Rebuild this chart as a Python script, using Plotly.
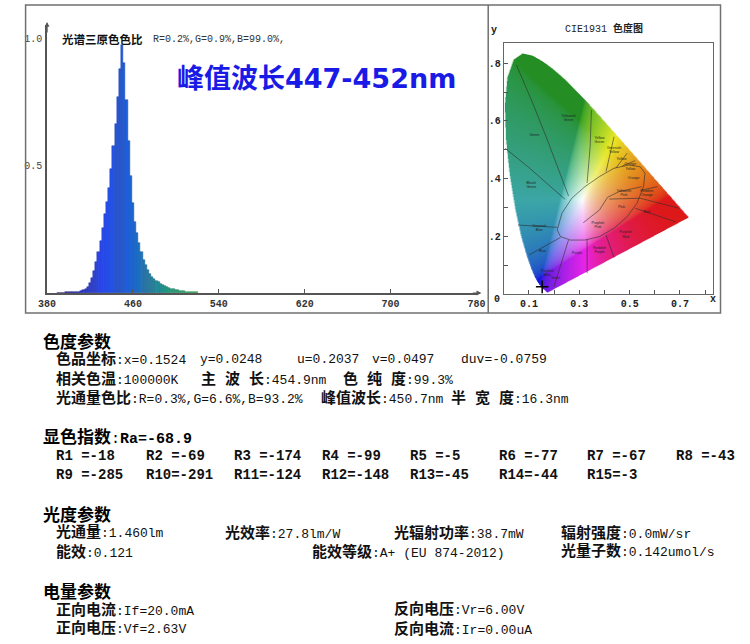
import base64
import struct
import zlib

import numpy as np
import plotly.graph_objects as go

W, H = 750, 644

# ---- spectrum, relative intensity read every 2 nm ----
wavelengths = list(range(390, 522, 2))
intensity = [0.001, 0.001, 0.001, 0.001, 0.002,
             0.002, 0.002, 0.003, 0.003, 0.004,
             0.005, 0.007, 0.010, 0.015, 0.024,
             0.038, 0.060, 0.088, 0.122, 0.162,
             0.205, 0.255, 0.310, 0.360, 0.415,
             0.490, 0.580, 0.665, 0.770, 0.880,
             0.975, 0.905, 0.760, 0.600, 0.460,
             0.355, 0.280, 0.235, 0.195, 0.160,
             0.130, 0.110, 0.090, 0.076, 0.064,
             0.055, 0.048, 0.042, 0.036, 0.031,
             0.027, 0.024, 0.020, 0.017, 0.014,
             0.012, 0.010, 0.008, 0.007, 0.006,
             0.005, 0.004, 0.003, 0.003, 0.002,
             0.002]
spec_xticks = [380, 460, 540, 620, 700, 780]
spec_yticks = [0.5, 1.0]
spec_title = "光谱三原色色比"
spec_ratio = "R=0.2%,G=0.9%,B=99.0%,"
big_label = "峰值波长447-452nm"

# ---- CIE 1931 spectral locus ----
locus_x = [0.1741, 0.1733, 0.1714, 0.1689, 0.1644, 0.1566, 0.1440, 0.1355, 0.1241,
           0.1096, 0.0913, 0.0687, 0.0454, 0.0235, 0.0082, 0.0039, 0.0139, 0.0389,
           0.0743, 0.1142, 0.1547, 0.1929, 0.2296, 0.2658, 0.3016, 0.3373, 0.3731,
           0.4087, 0.4441, 0.4788, 0.5125, 0.5448, 0.5752, 0.6029, 0.6270, 0.6482,
           0.6658, 0.6915, 0.7079, 0.7190, 0.7260, 0.7300, 0.7334, 0.7347]
locus_y = [0.0050, 0.0048, 0.0051, 0.0069, 0.0109, 0.0177, 0.0297, 0.0399, 0.0578,
           0.0868, 0.1327, 0.2007, 0.2950, 0.4127, 0.5384, 0.6548, 0.7502, 0.8120,
           0.8338, 0.8262, 0.8059, 0.7816, 0.7543, 0.7243, 0.6923, 0.6589, 0.6245,
           0.5896, 0.5547, 0.5202, 0.4866, 0.4544, 0.4242, 0.3965, 0.3725, 0.3514,
           0.3340, 0.3083, 0.2920, 0.2809, 0.2740, 0.2700, 0.2666, 0.2653]
chroma_point = (0.1524, 0.0248)

# colour-name regions drawn on the chart (Kelly style)
region_ellipse = [(0.212, 0.222), (0.231, 0.280), (0.270, 0.332), (0.322, 0.372),
                  (0.380, 0.407), (0.438, 0.436), (0.497, 0.447), (0.542, 0.441),
                  (0.561, 0.418), (0.555, 0.372), (0.529, 0.314), (0.490, 0.268),
                  (0.438, 0.228), (0.380, 0.199), (0.322, 0.187), (0.264, 0.187),
                  (0.225, 0.199), (0.212, 0.222)]
region_lines = [
    [(0.050, 0.794), (0.115, 0.661), (0.173, 0.534), (0.219, 0.430), (0.257, 0.340)],
    [(0.005, 0.505), (0.096, 0.441), (0.186, 0.372), (0.244, 0.328)],
    [(0.348, 0.638), (0.343, 0.511), (0.331, 0.385)],
    [(0.438, 0.545), (0.406, 0.424)],
    [(0.490, 0.488), (0.445, 0.436)],
    [(0.522, 0.462), (0.471, 0.444)],
    [(0.610, 0.372), (0.548, 0.360)],
    [(0.542, 0.332), (0.697, 0.297)],
    [(0.522, 0.297), (0.683, 0.250)],
    [(0.406, 0.204), (0.438, 0.127)],
    [(0.331, 0.190), (0.331, 0.072)],
    [(0.257, 0.187), (0.199, 0.025)],
    [(0.225, 0.196), (0.100, 0.135)],
    [(0.212, 0.231), (0.057, 0.239)],
    [(0.3155, 0.247), (0.380, 0.291), (0.412, 0.335), (0.458, 0.355), (0.548, 0.372)],
    [(0.419, 0.329), (0.542, 0.332)],
]
region_names = ["Green", "Yellowish<br>Green", "Yellow<br>Green", "Greenish<br>Yellow",
                "Yellow", "Orange<br>Yellow", "Orange", "Bluish<br>Green",
                "Yellowish<br>Pink", "Reddish<br>Orange", "Pink", "Red", "Greenish<br>Blue",
                "Purplish<br>Pink", "Purplish<br>Red", "Blue", "Purple",
                "Reddish<br>Purple", "Purplish<br>Blue", "Violet"]
region_name_x = [0.121, 0.257, 0.380, 0.438, 0.468, 0.503, 0.516, 0.109, 0.477, 0.568,
                 0.468, 0.568, 0.141, 0.374, 0.484, 0.154, 0.290, 0.380, 0.173, 0.206]
region_name_y = [0.551, 0.609, 0.534, 0.499, 0.468, 0.441, 0.401, 0.378, 0.349, 0.349,
                 0.300, 0.285, 0.228, 0.239, 0.205, 0.147, 0.141, 0.152, 0.072, 0.054]
cie_xticks = [0.1, 0.2, 0.3, 0.4, 0.5, 0.6, 0.7, 0.8]
cie_xtext = ["0.1", "", "0.3", "", "0.5", "", "0.7", ""]
cie_yticks = [0.1, 0.2, 0.3, 0.4, 0.5, 0.6, 0.7, 0.8]
cie_ytext = ["", ".2", "", ".4", "", ".6", "", ".8"]

# ---- report text ----
sec_chroma = "色度参数"
chroma_rows = [
    [("色品坐标", "x=0.1524"), ("", "y=0.0248"), ("", "u=0.2037"), ("", "v=0.0497"), ("", "duv=-0.0759")],
    [("相关色温", "100000K"), ("主 波 长", "454.9nm"), ("色 纯 度", "99.3%")],
    [("光通量色比", "R=0.3%,G=6.6%,B=93.2%"), ("峰值波长", "450.7nm"), ("半 宽 度", "16.3nm")],
]
sec_cri = "显色指数"
ra_value = "Ra=-68.9"
r_names = ["R1 ", "R2 ", "R3 ", "R4 ", "R5 ", "R6 ", "R7 ", "R8 ",
           "R9 ", "R10", "R11", "R12", "R13", "R14", "R15"]
r_values = [-18, -69, -174, -99, -5, -77, -67, -43,
            -285, -291, -124, -148, -45, -44, -3]
sec_photo = "光度参数"
photo_rows = [
    [("光通量", "1.460lm"), ("光效率", "27.8lm/W"), ("光辐射功率", "38.7mW"), ("辐射强度", "0.0mW/sr")],
    [("能效", "0.121"), ("能效等级", "A+ (EU 874-2012)"), ("光量子数", "0.142umol/s")],
]
sec_elec = "电量参数"
elec_rows = [
    [("正向电流", "If=20.0mA"), ("反向电压", "Vr=6.00V")],
    [("正向电压", "Vf=2.63V"), ("反向电流", "Ir=0.00uA")],
]

MONO = "Liberation Mono, Noto Sans CJK SC, monospace"
CJK = "Noto Sans CJK SC, sans-serif"


def px(x):
    return x / W


def py(y):
    return 1 - y / H


def wl_color(wl, k=1.0):
    nm = [390, 420, 432, 442, 452, 462, 472, 482, 495, 510, 520]
    r = [50, 45, 42, 35, 30, 30, 32, 35, 42, 55, 65]
    g = [30, 62, 75, 85, 94, 108, 126, 142, 162, 178, 188]
    b = [150, 225, 240, 238, 232, 210, 184, 162, 130, 110, 100]
    c = [int(np.interp(wl, nm, ch) * k) for ch in (r, g, b)]
    return "rgb(%d,%d,%d)" % tuple(c)


def png_uri(rgba):
    h, w, _ = rgba.shape
    raw = b"".join(b"\x00" + rgba[i].tobytes() for i in range(h))

    def chunk(tag, data):
        return (struct.pack(">I", len(data)) + tag + data
                + struct.pack(">I", zlib.crc32(tag + data) & 0xffffffff))

    png = (b"\x89PNG\r\n\x1a\n"
           + chunk(b"IHDR", struct.pack(">IIBBBBB", w, h, 8, 6, 0, 0, 0))
           + chunk(b"IDAT", zlib.compress(raw, 9))
           + chunk(b"IEND", b""))
    return "data:image/png;base64," + base64.b64encode(png).decode()


def cie_image(xmax, ymax, nx, ny):
    xs = (np.arange(nx) + 0.5) / nx * xmax
    ys = ymax - (np.arange(ny) + 0.5) / ny * ymax
    gx, gy = np.meshgrid(xs, ys)
    # point in locus polygon
    poly = list(zip(locus_x, locus_y))
    inside = np.zeros(gx.shape, bool)
    j = len(poly) - 1
    for i in range(len(poly)):
        xi, yi = poly[i]
        xj, yj = poly[j]
        cross = ((yi > gy) != (yj > gy)) & (gx < (xj - xi) * (gy - yi) / (yj - yi + 1e-12) + xi)
        inside ^= cross
        j = i
    sy = np.maximum(gy, 1e-4)
    X = gx / sy
    Z = (1 - gx - gy) / sy
    r = 3.2406 * X - 1.5372 - 0.4986 * Z
    g = -0.9689 * X + 1.8758 + 0.0415 * Z
    b = 0.0557 * X - 0.2040 + 1.0570 * Z
    rgb = np.clip(np.stack([r, g, b], axis=-1), 0, None)
    rgb = rgb / np.maximum(rgb.max(axis=-1, keepdims=True), 1e-9)
    rgb = np.where(rgb <= 0.0031308, 12.92 * rgb, 1.055 * rgb ** (1 / 2.4) - 0.055)
    # soften towards the printed look of the reference chart
    R, G, B = rgb[..., 0:1], rgb[..., 1:2], rgb[..., 2:3]
    B = B * (1 - np.clip(1.2 * (R - B), 0, 1))
    rgb = np.concatenate([R, G, B], axis=-1)
    gr = np.clip(rgb[..., 1:2] - rgb[..., 0:1], 0, 1)
    rgb = rgb * (1 - 0.25 * gr)
    mean = rgb.mean(axis=-1, keepdims=True)
    rgb = mean + (0.85 - 0.25 * gr) * (rgb - mean)
    sat = rgb.max(axis=-1, keepdims=True) - rgb.min(axis=-1, keepdims=True)
    rgb = 0.05 + 0.95 * rgb * (1 - 0.05 * sat)
    img = np.zeros((ny, nx, 4), np.uint8)
    img[..., :3] = np.clip(rgb * 255, 0, 255).astype(np.uint8)
    img[..., 3] = np.where(inside, 255, 0).astype(np.uint8)
    return img


fig = go.Figure()

# spectrum bars
fig.add_trace(go.Bar(
    x=wavelengths, y=intensity, width=2,
    marker=dict(color=[wl_color(w) for w in wavelengths],
                line=dict(color=[wl_color(w, 0.75) for w in wavelengths], width=0.5)),
    xaxis="x", yaxis="y", hoverinfo="skip", showlegend=False))

# CIE region lines
lx, ly = [], []
for seg in [region_ellipse] + region_lines:
    lx += [p[0] for p in seg] + [None]
    ly += [p[1] for p in seg] + [None]
fig.add_trace(go.Scatter(x=lx, y=ly, mode="lines", line=dict(color="rgba(45,45,45,0.85)", width=0.7),
                         xaxis="x2", yaxis="y2", hoverinfo="skip", showlegend=False))
fig.add_trace(go.Scatter(x=region_name_x, y=region_name_y, mode="text", text=region_names,
                         textfont=dict(size=3.5, color="#222", family="Liberation Sans"),
                         xaxis="x2", yaxis="y2", hoverinfo="skip", showlegend=False))
fig.add_trace(go.Scatter(x=[chroma_point[0]], y=[chroma_point[1]], mode="markers",
                         marker=dict(symbol="cross-thin", size=9, line=dict(color="black", width=1.5)),
                         xaxis="x2", yaxis="y2", hoverinfo="skip", showlegend=False))

CX, CY = 0.83, 0.87
fig.add_layout_image(dict(source=png_uri(cie_image(CX, CY, 428, 502)), xref="x2", yref="y2",
                          x=0, y=CY, sizex=CX, sizey=CY, xanchor="left", yanchor="top",
                          sizing="stretch", layer="below"))

fig.update_layout(
    width=W, height=H, margin=dict(l=0, r=0, t=0, b=0),
    paper_bgcolor="white", plot_bgcolor="rgba(0,0,0,0)", bargap=0,
    xaxis=dict(domain=[px(39), px(479)], range=[380, 780], anchor="y",
               showline=True, linecolor="#555", linewidth=1.5, showgrid=False, zeroline=False,
               ticks="inside", ticklen=4, tickcolor="#555", tickvals=spec_xticks,
               tickfont=dict(family=MONO, size=10, color="#333", weight="bold")),
    yaxis=dict(domain=[py(293), py(25)], range=[0, 1.055], anchor="x",
               showline=True, linecolor="#555", linewidth=1.5, showgrid=False, zeroline=False,
               ticks="", tickvals=spec_yticks, ticktext=["0.5", "1.0"], ticklabelstandoff=1,
               tickfont=dict(family=MONO, size=10, color="#444")),
    xaxis2=dict(domain=[px(507), px(721)], range=[0, CX], anchor="y2",
                showline=True, mirror=True, linecolor="#666", linewidth=1.2,
                showgrid=False, zeroline=False, ticks="inside", ticklen=4, tickcolor="#555",
                tickvals=cie_xticks, ticktext=cie_xtext,
                tickfont=dict(family=MONO, size=10, color="#222", weight="bold")),
    yaxis2=dict(domain=[py(294), py(43)], range=[0, CY], anchor="x2",
                showline=True, mirror=True, linecolor="#666", linewidth=1.2,
                showgrid=False, zeroline=False, ticks="inside", ticklen=4, tickcolor="#555",
                tickvals=cie_yticks, ticktext=cie_ytext,
                tickfont=dict(family=MONO, size=10, color="#222", weight="bold")),
)

# outer frame and divider
fig.add_shape(type="rect", xref="paper", yref="paper", x0=px(17), x1=px(729), y0=py(313), y1=py(5),
              line=dict(color="#707070", width=1.5))
fig.add_shape(type="line", xref="paper", yref="paper", x0=px(491), x1=px(491), y0=py(313), y1=py(5),
              line=dict(color="#707070", width=1.5))

# axis arrows on spectrum
fig.add_annotation(x=px(39), y=py(22), xref="paper", yref="paper", ax=0, ay=12, text="",
                   showarrow=True, arrowhead=2, arrowsize=0.8, arrowwidth=1.2, arrowcolor="#555")
fig.add_annotation(x=px(484), y=py(293), xref="paper", yref="paper", ax=-10, ay=0, text="",
                   showarrow=True, arrowhead=2, arrowsize=0.8, arrowwidth=1.2, arrowcolor="#555")


def put(x, y, text, size, family=MONO, color="#111", anchor="left", weight="normal"):
    fig.add_annotation(x=px(x), y=py(y), xref="paper", yref="paper", text=text, showarrow=False,
                       xanchor=anchor, yanchor="middle", borderpad=0,
                       font=dict(family=family, size=size, color=color, weight=weight))


# spectrum texts
put(53, 39, spec_title, 11.5, family=CJK, color="#111", weight="bold")
put(147, 39, spec_ratio, 10, color="#333")
put(171, 78, big_label, 27, family="DejaVu Sans, Noto Sans CJK SC", color="#1a1ae6", weight="bold")

# CIE texts
put(610, 29, "CIE1931 <b>色度图</b>", 10, color="#222", anchor="center")
put(497, 30, "y", 10, color="#222", anchor="center", weight="bold")
put(500, 299, "0", 10, color="#222", anchor="center", weight="bold")
put(721, 299, "x", 10, color="#222", anchor="center", weight="bold")

# report
HEAD = 17
LAB = 15
VAL = 13


def label(text, size=LAB):
    return "<b><span style='font-size:%dpx'>%s</span></b>" % (size, text)


def row(items, xs, y):
    for (lab, val), x in zip(items, xs):
        if lab:
            put(x, y, "%s:%s" % (label(lab), val), VAL)
        else:
            put(x, y, val, VAL)


put(34, 340, "<b>%s</b>" % sec_chroma, HEAD, family=CJK, color="#000")
row(chroma_rows[0], [47, 195, 294, 371, 462], 359)
row(chroma_rows[1], [47, 196, 341], 379)
row(chroma_rows[2], [47, 319, 452], 398)

put(34, 437, "%s:<b>%s</b>" % (label(sec_cri, HEAD), ra_value), 15, color="#000")
r_x = [47, 139, 229, 320, 410, 501, 591, 682]
for i, (name, val) in enumerate(zip(r_names, r_values)):
    put(r_x[i % 8], 456 if i < 8 else 475, "%s=%d" % (name, val), 14, color="#111", weight="bold")

put(34, 513, "<b>%s</b>" % sec_photo, HEAD, family=CJK, color="#000")
row(photo_rows[0], [47, 220, 393, 565], 533)
row(photo_rows[1], [47, 309, 565], 552)

put(34, 590, "<b>%s</b>" % sec_elec, HEAD, family=CJK, color="#000")
row(elec_rows[0], [47, 393], 610)
row(elec_rows[1], [47, 393], 629)

fig.write_html("out.html", config={"displayModeBar": False},
               post_script="document.body.style.margin='0';document.body.style.padding='0';")
